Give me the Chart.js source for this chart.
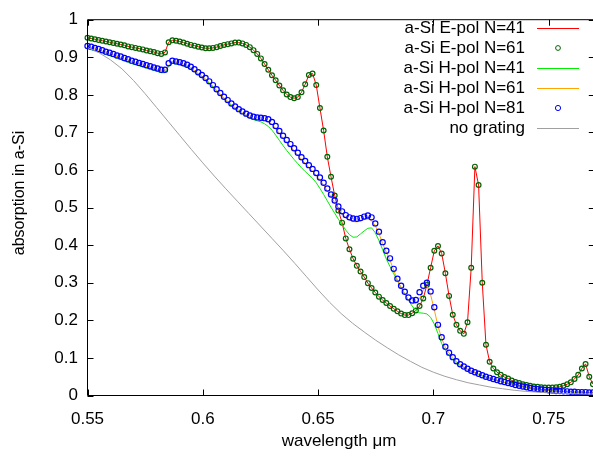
<!DOCTYPE html>
<html>
<head>
<meta charset="utf-8">
<script src="https://cdn.jsdelivr.net/npm/chart.js@4"></script>
<style>
html, body { margin: 0; padding: 0; overflow: hidden; background: #fff; }
</style>
</head>
<body>
<canvas id="absChart" width="600" height="456"></canvas>
<script>
// sampled wavelengths (um) of the grating runs
const wavelength = [
0.5500,0.5516,0.5532,0.5548,0.5564,0.5580,0.5596,0.5612,0.5628,0.5644,
0.5660,0.5676,0.5692,0.5708,0.5724,0.5740,0.5756,0.5772,0.5788,0.5804,
0.5820,0.5836,0.5852,0.5868,0.5884,0.5900,0.5916,0.5932,0.5948,0.5964,
0.5980,0.5996,0.6012,0.6028,0.6044,0.6060,0.6076,0.6092,0.6108,0.6124,
0.6140,0.6156,0.6172,0.6188,0.6204,0.6220,0.6236,0.6252,0.6268,0.6284,
0.6300,0.6316,0.6332,0.6348,0.6364,0.6380,0.6396,0.6412,0.6428,0.6444,
0.6460,0.6476,0.6492,0.6508,0.6524,0.6540,0.6556,0.6572,0.6588,0.6604,
0.6620,0.6636,0.6652,0.6668,0.6684,0.6700,0.6716,0.6732,0.6748,0.6764,
0.6780,0.6796,0.6812,0.6828,0.6844,0.6860,0.6876,0.6892,0.6908,0.6924,
0.6940,0.6956,0.6972,0.6988,0.7004,0.7020,0.7036,0.7052,0.7068,0.7084,
0.7100,0.7116,0.7132,0.7148,0.7164,0.7180,0.7196,0.7212,0.7228,0.7244,
0.7260,0.7276,0.7292,0.7308,0.7324,0.7340,0.7356,0.7372,0.7388,0.7404,
0.7420,0.7436,0.7452,0.7468,0.7484,0.7500,0.7516,0.7532,0.7548,0.7564,
0.7580,0.7596,0.7612,0.7628,0.7644,0.7660,0.7676,0.7692
];

// E-pol (N=41 line and N=61 points lie on top of each other)
const ePol = [
0.952,0.950,0.948,0.946,0.944,0.942,0.940,0.938,0.936,0.934,
0.932,0.929,0.927,0.925,0.923,0.921,0.918,0.916,0.914,0.911,
0.909,0.913,0.940,0.945,0.944,0.942,0.939,0.936,0.933,0.931,
0.928,0.926,0.924,0.924,0.925,0.927,0.930,0.933,0.935,0.937,
0.939,0.939,0.937,0.933,0.927,0.919,0.909,0.897,0.882,0.867,
0.852,0.839,0.825,0.812,0.801,0.794,0.791,0.794,0.807,0.828,
0.853,0.857,0.826,0.765,0.705,0.635,0.582,0.532,0.492,0.460,
0.418,0.389,0.364,0.345,0.330,0.315,0.299,0.286,0.274,0.263,
0.254,0.246,0.238,0.231,0.224,0.218,0.214,0.214,0.219,0.226,
0.238,0.258,0.295,0.340,0.385,0.398,0.378,0.325,0.265,0.215,
0.188,0.172,0.164,0.195,0.340,0.609,0.560,0.300,0.135,0.090,
0.072,0.062,0.055,0.049,0.045,0.040,0.036,0.033,0.030,0.028,
0.026,0.024,0.023,0.022,0.021,0.021,0.021,0.022,0.023,0.026,
0.030,0.035,0.044,0.055,0.072,0.084,0.050,0.030
];

// H-pol N=41
const hPol41 = [
0.922,0.920,0.917,0.914,0.911,0.907,0.904,0.901,0.897,0.894,
0.890,0.887,0.883,0.880,0.877,0.874,0.871,0.868,0.865,0.862,
0.859,0.859,0.876,0.884,0.882,0.880,0.877,0.873,0.868,0.862,
0.855,0.848,0.840,0.831,0.821,0.810,0.800,0.790,0.781,0.772,
0.764,0.757,0.750,0.744,0.738,0.734,0.731,0.728,0.723,0.716,
0.706,0.693,0.679,0.665,0.652,0.640,0.628,0.617,0.606,0.596,
0.587,0.578,0.566,0.551,0.535,0.518,0.501,0.485,0.469,0.455,
0.440,0.428,0.421,0.422,0.430,0.438,0.445,0.446,0.433,0.412,
0.388,0.363,0.343,0.324,0.305,0.287,0.270,0.253,0.238,0.226,
0.220,0.219,0.217,0.208,0.190,0.165,0.138,0.120,0.106,0.096,
0.087,0.080,0.074,0.068,0.064,0.060,0.056,0.052,0.049,0.046,
0.043,0.040,0.037,0.035,0.032,0.030,0.027,0.025,0.023,0.021,
0.019,0.018,0.016,0.015,0.014,0.013,0.012,0.012,0.011,0.011,
0.010,0.010,0.009,0.009,0.009,0.008,0.008,0.008
];

// H-pol N=61
const hPol61 = [
0.927,0.925,0.922,0.919,0.916,0.912,0.909,0.906,0.902,0.899,
0.895,0.892,0.888,0.885,0.882,0.879,0.876,0.873,0.870,0.867,
0.864,0.864,0.880,0.888,0.886,0.884,0.881,0.877,0.872,0.865,
0.857,0.850,0.842,0.833,0.823,0.812,0.802,0.792,0.783,0.774,
0.766,0.759,0.752,0.746,0.741,0.737,0.734,0.733,0.732,0.729,
0.722,0.711,0.698,0.685,0.674,0.663,0.652,0.640,0.628,0.618,
0.607,0.597,0.586,0.574,0.560,0.545,0.529,0.513,0.497,0.484,
0.474,0.467,0.463,0.462,0.464,0.468,0.470,0.465,0.452,0.431,
0.404,0.381,0.360,0.333,0.307,0.288,0.270,0.254,0.244,0.246,
0.258,0.280,0.293,0.268,0.228,0.184,0.152,0.128,0.113,0.101,
0.090,0.082,0.076,0.070,0.065,0.061,0.057,0.053,0.049,0.046,
0.043,0.040,0.037,0.035,0.032,0.030,0.027,0.025,0.023,0.021,
0.019,0.018,0.016,0.015,0.014,0.013,0.012,0.012,0.011,0.011,
0.010,0.010,0.009,0.009,0.009,0.008,0.008,0.008
];

// H-pol N=81
const hPol81 = [
0.930,0.928,0.925,0.922,0.919,0.915,0.912,0.909,0.905,0.902,
0.898,0.895,0.891,0.888,0.885,0.882,0.879,0.876,0.873,0.870,
0.867,0.867,0.884,0.891,0.889,0.887,0.884,0.880,0.875,0.868,
0.860,0.853,0.845,0.836,0.826,0.815,0.805,0.795,0.786,0.777,
0.769,0.762,0.756,0.750,0.745,0.742,0.740,0.739,0.738,0.735,
0.728,0.717,0.704,0.691,0.680,0.669,0.658,0.646,0.634,0.624,
0.613,0.603,0.592,0.580,0.566,0.551,0.535,0.519,0.503,0.490,
0.480,0.474,0.471,0.470,0.472,0.476,0.479,0.474,0.458,0.436,
0.408,0.385,0.365,0.337,0.311,0.292,0.276,0.261,0.253,0.254,
0.275,0.292,0.300,0.277,0.235,0.188,0.155,0.130,0.114,0.102,
0.091,0.083,0.077,0.071,0.066,0.062,0.058,0.054,0.050,0.047,
0.044,0.041,0.038,0.036,0.033,0.031,0.028,0.026,0.024,0.022,
0.020,0.018,0.017,0.016,0.015,0.014,0.013,0.012,0.012,0.011,
0.011,0.010,0.010,0.009,0.009,0.009,0.008,0.008
];

// bare film, no grating
const flatWl = [
0.550,0.555,0.560,0.565,0.570,0.575,0.580,0.585,0.590,0.595,
0.600,0.605,0.610,0.615,0.620,0.625,0.630,0.635,0.640,0.645,
0.650,0.655,0.660,0.665,0.670,0.675,0.680,0.685,0.690,0.695,
0.700,0.705,0.710,0.715,0.720,0.725,0.730,0.735,0.740,0.745,
0.750,0.755,0.760,0.765,0.770
];
const noGrating = [
0.926,0.912,0.893,0.869,0.838,0.803,0.766,0.729,0.692,0.655,
0.619,0.584,0.550,0.517,0.484,0.451,0.418,0.385,0.351,0.316,
0.281,0.248,0.218,0.192,0.169,0.147,0.127,0.108,0.091,0.075,
0.062,0.051,0.042,0.034,0.028,0.022,0.018,0.014,0.011,0.009,
0.007,0.006,0.005,0.004,0.004
];

const xTicks = [0.55, 0.6, 0.65, 0.7, 0.75];
const yTicks = [0, 0.1, 0.2, 0.3, 0.4, 0.5, 0.6, 0.7, 0.8, 0.9, 1];

const pts = (xs, ys) => xs.map((x, i) => ({ x: x, y: ys[i] }));

Chart.defaults.font.family = '"Liberation Sans", Arial, sans-serif';
Chart.defaults.font.size = 17;
Chart.defaults.color = '#000';

// gnuplot-like frame, inward ticks, axis titles and key
const gnuFrame = {
    id: 'gnuFrame',
    afterDatasetsDraw(chart) {
        const { ctx, chartArea: a, scales } = chart;
        ctx.save();
        ctx.strokeStyle = '#000';
        ctx.lineWidth = 1;
        ctx.beginPath();
        ctx.rect(a.left, a.top, a.right - a.left, a.bottom - a.top);
        xTicks.forEach(v => {
            const p = Math.round(scales.x.getPixelForValue(v)) + 0.5;
            ctx.moveTo(p, a.bottom); ctx.lineTo(p, a.bottom - 6);
            ctx.moveTo(p, a.top); ctx.lineTo(p, a.top + 6);
        });
        yTicks.forEach(v => {
            const p = Math.round(scales.y.getPixelForValue(v)) + 0.5;
            ctx.moveTo(a.left, p); ctx.lineTo(a.left + 6, p);
            ctx.moveTo(a.right, p); ctx.lineTo(a.right - 6, p);
        });
        ctx.stroke();
        ctx.restore();
    },
    afterDraw(chart) {
        const ctx = chart.ctx;
        ctx.save();
        ctx.fillStyle = '#000';
        ctx.textAlign = 'center';
        ctx.textBaseline = 'middle';
        ctx.font = '17px "Liberation Sans", Arial, sans-serif';
        ctx.fillText('wavelength \u03bcm', 339, 441);
        ctx.font = '16px "Liberation Sans", Arial, sans-serif';
        ctx.save();
        ctx.translate(20, 193);
        ctx.rotate(-Math.PI / 2);
        ctx.fillText('absorption in a-Si', 0, 0);
        ctx.restore();

        // key
        ctx.font = '17px "Liberation Sans", Arial, sans-serif';
        ctx.textAlign = 'right';
        chart.data.datasets.forEach((ds, i) => {
            const yy = 28 + i * 20;
            ctx.fillStyle = '#000';
            ctx.fillText(ds.label, 525, yy);
            if (ds.showLine === false) {
                ctx.beginPath();
                ctx.arc(558, yy, ds.pointRadius, 0, Math.PI * 2);
                ctx.strokeStyle = ds.pointBorderColor;
                ctx.lineWidth = 1;
                ctx.stroke();
            } else {
                ctx.beginPath();
                ctx.moveTo(537, yy + 0.5);
                ctx.lineTo(579, yy + 0.5);
                ctx.strokeStyle = ds.borderColor;
                ctx.lineWidth = 1;
                ctx.stroke();
            }
        });
        ctx.restore();
    }
};

const ctx = document.getElementById('absChart').getContext('2d');
new Chart(ctx, {
    type: 'scatter',
    data: {
        datasets: [
            {
                label: 'a-Si E-pol N=41',
                data: pts(wavelength, ePol),
                showLine: true,
                borderColor: '#ff0000',
                borderWidth: 1,
                pointRadius: 0,
                order: 6
            },
            {
                label: 'a-Si E-pol N=61',
                data: pts(wavelength, ePol),
                showLine: false,
                pointRadius: 2.4,
                pointBorderWidth: 1.2,
                pointBorderColor: '#006400',
                pointBackgroundColor: 'rgba(0,0,0,0)',
                clip: 5,
                order: 5
            },
            {
                label: 'a-Si H-pol N=41',
                data: pts(wavelength, hPol41),
                showLine: true,
                borderColor: '#00ee00',
                borderWidth: 1,
                pointRadius: 0,
                order: 4
            },
            {
                label: 'a-Si H-pol N=61',
                data: pts(wavelength, hPol61),
                showLine: true,
                borderColor: '#ffa500',
                borderWidth: 1,
                pointRadius: 0,
                order: 3
            },
            {
                label: 'a-Si H-pol N=81',
                data: pts(wavelength, hPol81),
                showLine: false,
                pointRadius: 2.6,
                pointBorderWidth: 1.2,
                pointBorderColor: '#0000ff',
                pointBackgroundColor: 'rgba(0,0,0,0)',
                clip: 5,
                order: 2
            },
            {
                label: 'no grating',
                data: pts(flatWl, noGrating),
                showLine: true,
                borderColor: '#a0a0a0',
                borderWidth: 1,
                pointRadius: 0,
                order: 1
            }
        ]
    },
    options: {
        responsive: false,
        devicePixelRatio: 1,
        animation: false,
        events: [],
        layout: { padding: { left: 0, right: 3.7, top: 13.5, bottom: 0 } },
        plugins: {
            legend: { display: false },
            tooltip: { enabled: false }
        },
        scales: {
            x: {
                type: 'linear',
                min: 0.55,
                max: 0.77,
                grid: { display: false, drawTicks: false },
                border: { display: false },
                afterBuildTicks: s => { s.ticks = xTicks.map(v => ({ value: v })); },
                afterFit: s => { s.height = 60.5; },
                ticks: {
                    autoSkip: false,
                    maxRotation: 0,
                    padding: 14,
                    callback: v => String(v)
                }
            },
            y: {
                type: 'linear',
                min: 0,
                max: 1,
                grid: { display: false, drawTicks: false },
                border: { display: false },
                afterBuildTicks: s => { s.ticks = yTicks.map(v => ({ value: v })); },
                afterFit: s => { s.width = 87.5; },
                ticks: {
                    padding: 9.5,
                    callback: v => String(v)
                }
            }
        }
    },
    plugins: [gnuFrame]
});
</script>
</body>
</html>
